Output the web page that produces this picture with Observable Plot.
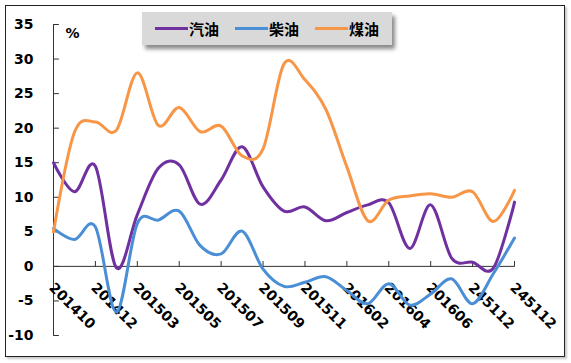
<!DOCTYPE html>
<html><head><meta charset="utf-8">
<script src="https://cdn.jsdelivr.net/npm/d3@7"></script>
<script src="https://cdn.jsdelivr.net/npm/@observablehq/plot@0.6"></script>
<style>
body{margin:0;background:#fff;}
#wrap{position:relative;width:571px;height:363px;}
#wrap svg{position:absolute;left:0;top:0;}
#frame{position:absolute;left:5px;top:5px;width:558px;height:350px;border:1px solid #222;box-shadow:2px 2px 2px #c8c8c8;pointer-events:none;}
#legend{position:absolute;left:142px;top:12px;width:250px;height:33px;background:#d9d9d9;box-shadow:3px 4px 4px #8a8a8a;z-index:2;}
.item{position:absolute;top:0;height:33px;display:flex;align-items:center;font:bold 15px "Noto Sans CJK SC",sans-serif;color:#000;}
.sw{display:inline-block;width:33px;height:3px;margin-right:1px;}
</style></head>
<body><div id="wrap"><div id="frame"></div><div id="legend"></div></div>
<script>
// x tick labels (every second month slot)
const tickLabels = ["201410","201412","201503","201505","201507","201509","201511","201602","201604","201606","245112","245112"];
const tickIndex = [0,2,4,6,8,10,12,14,16,18,20,22];
const yTicks = [-10,-5,0,5,10,15,20,25,30,35];

const seriesNames = ["汽油","柴油","煤油"];
const seriesColors = ["#7030A0","#4A8ED6","#F79646"];
const gasoline = [15.0,10.8,14.5,-0.2,7.5,14.2,14.7,9.0,12.5,17.3,11.5,8.0,8.6,6.6,7.8,8.9,9.2,2.6,8.9,1.2,0.6,-0.2,9.3];
const diesel   = [5.5,3.9,5.7,-6.6,6.2,6.7,8.0,3.0,1.8,5.1,-0.4,-2.9,-2.3,-1.5,-3.5,-5.4,-2.5,-5.6,-4.0,-1.8,-5.4,-1.0,4.1];
const kerosene = [5.0,19.4,20.9,19.7,28.0,20.4,23.0,19.5,20.3,16.0,17.0,29.3,27.0,22.7,14.4,6.6,9.6,10.2,10.5,10.0,10.8,6.5,11.0];

const seriesValues = [gasoline, diesel, kerosene];
const rows = seriesValues.flatMap((vals, s) => vals.map((v, i) => ({i, v, s: seriesNames[s]})));

const font = "DejaVu Sans";
const spike = {draw(ctx, l){ ctx.moveTo(0,0); ctx.lineTo(0,-l); }};

const chart = Plot.plot({
  width: 571, height: 363,
  marginLeft: 53, marginRight: 57, marginTop: 24, marginBottom: 28,
  style: {fontFamily: font, background: "transparent"},
  x: {domain: [0, 22], axis: null},
  y: {domain: [-10, 35], axis: null},
  color: {domain: seriesNames, range: seriesColors},
  marks: [
    Plot.text(yTicks, {x: 0, y: d => d, text: d => String(d), textAnchor: "end", dx: -20, fontSize: 14, fontWeight: "bold", fill: "#000"}),
    Plot.vector(yTicks, {x: 0, y: d => d, length: 5, rotate: 90, anchor: "start", shape: spike, stroke: "#333", strokeWidth: 1}),
    Plot.ruleX([0], {y1: -10, y2: 35, stroke: "#333", strokeWidth: 1}),
    Plot.ruleY([0], {x1: 0, x2: 22, stroke: "#333", strokeWidth: 1}),
    Plot.vector(tickIndex, {x: d => d, y: 0, length: 5, rotate: 0, anchor: "start", shape: spike, stroke: "#333", strokeWidth: 1}),
    Plot.text(tickIndex, {x: d => d, y: 0, text: (d, k) => tickLabels[k], rotate: 45, textAnchor: "start", dx: -2, dy: 19, fontSize: 14, fontWeight: "bold", fill: "#000"}),
    Plot.text(["%"], {x: 0, y: 35, text: d => d, textAnchor: "start", dx: 12, dy: 9, fontSize: 14, fontWeight: "bold", fill: "#000"}),
    Plot.line(rows, {x: "i", y: "v", stroke: "s", z: "s", strokeWidth: 3, curve: "cardinal"})
  ]
});
document.getElementById("wrap").prepend(chart);

const legend = document.getElementById("legend");
const offs = [13, 93, 173];
seriesNames.forEach((n, k) => {
  const it = document.createElement("div");
  it.className = "item";
  it.style.left = offs[k] + "px";
  it.innerHTML = `<span class="sw" style="background:${seriesColors[k]}"></span><span>${n}</span>`;
  legend.appendChild(it);
});
</script>
</body></html>
